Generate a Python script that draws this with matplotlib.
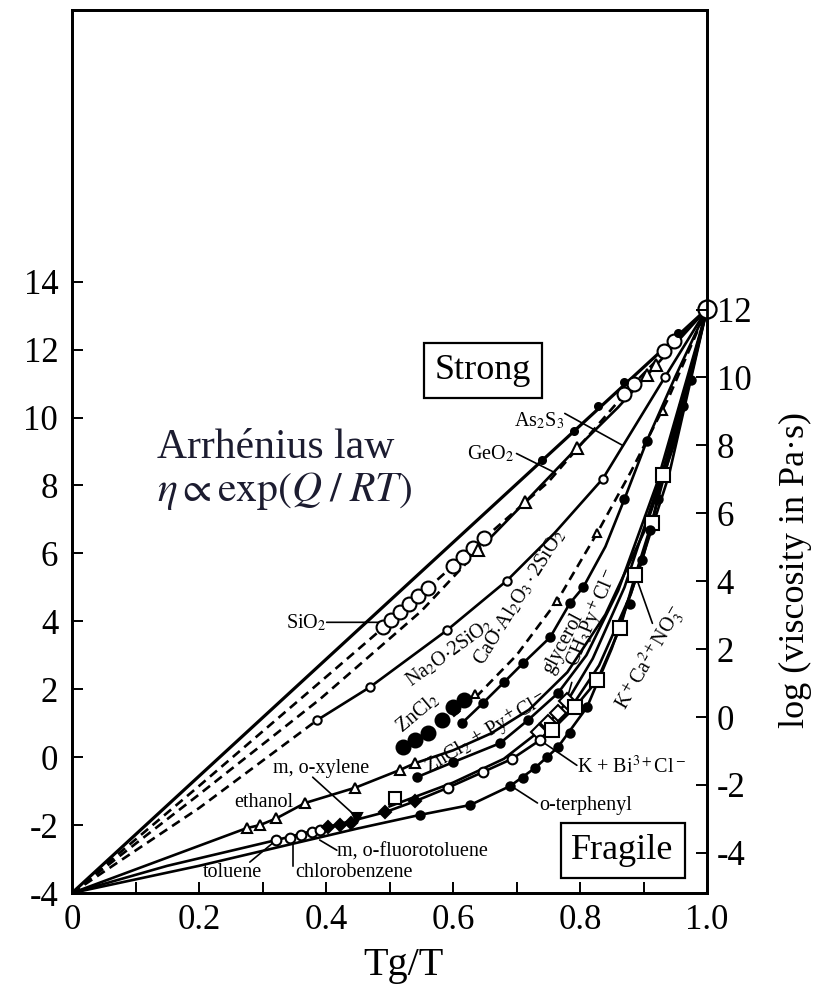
import numpy as np
import matplotlib.pyplot as plt

plt.rcParams['font.family'] = ['Liberation Serif', 'DejaVu Serif']
plt.rcParams['mathtext.fontset'] = 'stix'
plt.rcParams['axes.unicode_minus'] = False

# ---- data (Tg/T, log viscosity in poise-like left-axis units) ----
arr_t = [0.0, 1.0]
arr_v = [-4.0, 13.2]

sio2_line_t = [0.0, 0.2, 0.39, 0.5, 0.61, 0.75, 0.88, 0.94, 1.0]
sio2_line_v = [-4.0, -0.85, 2.2, 3.97, 5.8, 8.1, 10.9, 12.06, 13.2]
sio2_pts_t = [0.49, 0.503, 0.516, 0.53, 0.545, 0.56, 0.6, 0.615, 0.632, 0.648, 0.87, 0.885, 0.932, 0.948]
sio2_pts_v = [3.83, 4.05, 4.27, 4.5, 4.75, 4.98, 5.62, 5.88, 6.17, 6.45, 10.7, 11.0, 11.95, 12.25]

geo2_dash_t = [0.0, 0.2, 0.39, 0.55, 0.648]
geo2_dash_v = [-4.0, -1.1, 1.7, 4.3, 6.25]
geo2_line_t = [0.648, 0.713, 0.795, 0.86, 0.915, 1.0]
geo2_line_v = [6.25, 7.5, 9.1, 10.3, 11.44, 13.2]
geo2_pts_t = [0.64, 0.713, 0.795, 0.905, 0.92]
geo2_pts_v = [6.1, 7.5, 9.1, 11.25, 11.55]

as2s3_pts_t = [0.74, 0.79, 0.828, 0.87, 0.955]
as2s3_pts_v = [8.75, 9.6, 10.35, 11.05, 12.5]

na2o_dash_t = [0.0, 0.2, 0.386]
na2o_dash_v = [-4.0, -1.5, 1.09]
na2o_line_t = [0.386, 0.469, 0.59, 0.685, 0.76, 0.836, 0.868, 0.934, 1.0]
na2o_line_v = [1.09, 2.06, 3.73, 5.2, 6.6, 8.2, 9.18, 11.2, 13.2]
na2o_pts_t = [0.386, 0.469, 0.59, 0.685, 0.836, 0.934]
na2o_pts_v = [1.09, 2.06, 3.73, 5.2, 8.2, 11.2]

caoal_line_t = [0.6, 0.635, 0.7, 0.764, 0.827, 0.88, 0.94, 1.0]
caoal_line_v = [1.2, 1.75, 3.0, 4.6, 6.6, 8.4, 10.6, 13.2]
caoal_pts_t = [0.635, 0.764, 0.827, 0.93]
caoal_pts_v = [1.85, 4.6, 6.6, 10.2]

zncl2_pts_t = [0.521, 0.54, 0.56, 0.582, 0.6, 0.618]
zncl2_pts_v = [0.29, 0.5, 0.71, 1.09, 1.47, 1.68]

glyc_line_t = [0.614, 0.647, 0.68, 0.71, 0.753, 0.784, 0.805, 0.84, 0.87, 0.905, 0.95, 1.0]
glyc_line_v = [1.0, 1.59, 2.2, 2.76, 3.53, 4.53, 5.0, 6.2, 7.6, 9.3, 11.2, 13.2]
glyc_pts_t = [0.614, 0.647, 0.68, 0.71, 0.753, 0.784, 0.805, 0.87, 0.905]
glyc_pts_v = [1.0, 1.59, 2.2, 2.76, 3.53, 4.53, 5.0, 7.6, 9.3]

znpy_line_t = [0.543, 0.6, 0.674, 0.718, 0.765, 0.81, 0.86, 0.92, 1.0]
znpy_line_v = [-0.59, -0.15, 0.41, 1.09, 1.88, 3.0, 4.9, 8.0, 13.2]
znpy_pts_t = [0.543, 0.6, 0.674, 0.718, 0.765]
znpy_pts_v = [-0.59, -0.15, 0.41, 1.09, 1.88]

ch3py_line_t = [0.5, 0.6, 0.68, 0.735, 0.75, 0.765, 0.78, 0.82, 0.87, 0.93, 1.0]
ch3py_line_v = [-1.45, -0.75, -0.05, 0.75, 1.0, 1.3, 1.65, 2.9, 5.0, 8.4, 13.2]
ch3py_pts_t = [0.735, 0.75, 0.765, 0.78]
ch3py_pts_v = [0.75, 1.0, 1.3, 1.65]

kca_line_t = [0.74, 0.756, 0.792, 0.827, 0.863, 0.887, 0.913, 0.931, 0.96, 1.0]
kca_line_v = [0.55, 0.8, 1.47, 2.26, 3.8, 5.35, 6.9, 8.3, 10.3, 13.2]
kca_pts_t = [0.756, 0.792, 0.827, 0.863, 0.887, 0.913, 0.931]
kca_pts_v = [0.8, 1.47, 2.26, 3.8, 5.35, 6.9, 8.3]

oter_line_t = [0.0, 0.2, 0.359, 0.45, 0.548, 0.627, 0.69, 0.729, 0.765, 0.811, 0.85, 0.898, 0.923, 0.962, 1.0]
oter_line_v = [-4.0, -3.2, -2.5, -2.1, -1.7, -1.41, -0.85, -0.32, 0.29, 1.47, 3.2, 5.8, 7.6, 10.35, 13.2]
oter_pts_t = [0.548, 0.627, 0.69, 0.71, 0.729, 0.748, 0.765, 0.784, 0.811, 0.878, 0.898, 0.91, 0.923, 0.962, 0.975]
oter_pts_v = [-1.7, -1.41, -0.85, -0.6, -0.32, 0.0, 0.29, 0.7, 1.47, 4.5, 5.8, 6.68, 7.6, 10.35, 11.1]

fluo_line_t = [0.0, 0.15, 0.322, 0.403, 0.493, 0.54, 0.592, 0.647, 0.693, 0.737, 0.78, 0.83, 0.88, 0.94, 1.0]
fluo_line_v = [-4.0, -3.2, -2.44, -2.06, -1.62, -1.3, -0.9, -0.44, -0.05, 0.5, 1.3, 2.7, 4.8, 8.3, 13.2]
fluo_open_t = [0.322, 0.343, 0.36, 0.378, 0.39, 0.592, 0.647, 0.693, 0.737]
fluo_open_v = [-2.44, -2.38, -2.3, -2.2, -2.15, -0.9, -0.44, -0.05, 0.5]
fluo_dia_t = [0.403, 0.422, 0.44, 0.493, 0.54]
fluo_dia_v = [-2.06, -2.0, -1.93, -1.62, -1.3]

eth_line_t = [0.0, 0.275, 0.296, 0.322, 0.367, 0.446, 0.516, 0.54, 0.6, 0.66, 0.72, 0.78, 0.84, 0.9, 0.95, 1.0]
eth_line_v = [-4.0, -2.09, -2.0, -1.8, -1.35, -0.9, -0.38, -0.18, 0.2, 0.7, 1.4, 2.5, 4.2, 6.6, 9.3, 13.2]
eth_pts_t = [0.275, 0.296, 0.322, 0.367, 0.446, 0.516, 0.54]
eth_pts_v = [-2.09, -2.0, -1.8, -1.35, -0.9, -0.38, -0.18]

xyl_pts_t = [0.448]
xyl_pts_v = [-1.8]
misc_sq_t = [0.509]
misc_sq_v = [-1.2]

right_offset = 1.18  # right axis = left axis - offset

# ---- figure ----
fig = plt.figure(figsize=(8.25, 9.85), dpi=100)
ax = fig.add_axes([0.0873, 0.0934, 0.7697, 0.8965])

DASH = (0, (3.5, 2.2))


def curve(t, v, ls='-', lw=1.9):
    ax.plot(t, v, color='k', ls=ls, lw=lw, zorder=2)


def marks(t, v, m, ms, filled=False):
    ax.plot(t, v, ls='none', marker=m, ms=ms, mfc='k' if filled else 'white',
            mec='k', mew=1.5, zorder=4)


curve(arr_t, arr_v, lw=2.3)
curve(sio2_line_t, sio2_line_v, ls=DASH)
curve(geo2_dash_t, geo2_dash_v, ls=DASH)
curve(geo2_line_t, geo2_line_v)
curve(na2o_dash_t, na2o_dash_v, ls=DASH)
curve(na2o_line_t, na2o_line_v)
curve(caoal_line_t, caoal_line_v, ls=DASH)
curve(glyc_line_t, glyc_line_v)
curve(znpy_line_t, znpy_line_v)
curve(ch3py_line_t, ch3py_line_v)
curve(kca_line_t, kca_line_v)
curve(oter_line_t, oter_line_v)
curve(fluo_line_t, fluo_line_v)
curve(eth_line_t, eth_line_v)

marks(sio2_pts_t, sio2_pts_v, 'o', 10)
marks(geo2_pts_t, geo2_pts_v, '^', 9)
marks(as2s3_pts_t, as2s3_pts_v, 'o', 5, True)
marks(na2o_pts_t, na2o_pts_v, 'o', 6)
marks(caoal_pts_t, caoal_pts_v, '^', 6)
marks(zncl2_pts_t, zncl2_pts_v, 'o', 10, True)
marks(glyc_pts_t, glyc_pts_v, 'o', 6, True)
marks(znpy_pts_t, znpy_pts_v, 'o', 6, True)
marks(ch3py_pts_t, ch3py_pts_v, 'D', 8)
marks(kca_pts_t, kca_pts_v, 's', 10)
marks(oter_pts_t, oter_pts_v, 'o', 6, True)
marks(fluo_open_t, fluo_open_v, 'o', 7)
marks(fluo_dia_t, fluo_dia_v, 'D', 6, True)
marks(eth_pts_t, eth_pts_v, '^', 6.5)
marks(xyl_pts_t, xyl_pts_v, 'v', 7, True)
marks(misc_sq_t, misc_sq_v, 's', 9)
ax.plot([arr_t[-1]], [arr_v[-1]], ls='none', marker='o', ms=13, mfc='white',
        mec='k', mew=1.6, zorder=5, clip_on=False)

# ---- axes ----
ax.set_xlim(0, 1.0)
ax.set_ylim(-4, 22)
ax.set_xticks([0, 0.2, 0.4, 0.6, 0.8, 1.0])
ax.set_xticklabels(['0', '0.2', '0.4', '0.6', '0.8', '1.0'])
ax.set_xticks([0.1, 0.3, 0.5, 0.7, 0.9], minor=True)
ax.set_yticks(range(-4, 15, 2))
ax.tick_params(which='both', direction='in', length=8, width=1.4, labelsize=25)
ax.tick_params(axis='y', pad=10)
ax.tick_params(axis='x', pad=8)
for s in ax.spines.values():
    s.set_linewidth(2.0)

ax2 = ax.twinx()
ax2.set_ylim(-4 - right_offset, 22 - right_offset)
ax2.set_yticks(range(-4, 13, 2))
ax2.tick_params(direction='in', length=8, width=1.4, labelsize=25, pad=7)
for s in ax2.spines.values():
    s.set_linewidth(2.0)

fig.text(403 / 825, 1 - 966 / 985, 'Tg/T', ha='center', va='center', fontsize=29)
fig.text(795 / 825, 1 - 570 / 985, 'log (viscosity in Pa·s)', rotation=90,
         ha='center', va='center', fontsize=26)

# ---- annotations ----
box = dict(boxstyle='square,pad=0.3', fc='white', ec='k', lw=1.6)
ax.text(0.647, 11.38, 'Strong', fontsize=26, ha='center', va='center', bbox=box, zorder=6)
ax.text(0.867, -2.74, 'Fragile', fontsize=26, ha='center', va='center', bbox=box, zorder=6)

ax.text(0.134, 9.12, 'Arrhénius law', fontsize=30, color='#1c1c30', ha='left', va='center')
ax.text(0.134, 7.85, r'$\eta \propto \mathrm{exp}(Q\;/\;RT)$', fontsize=30, color='#1c1c30',
        ha='left', va='center')

fs = 14.5
labels = [
    (0.368, 3.94, r'SiO$_2$', 0, 'center'),
    (0.659, 8.94, r'GeO$_2$', 0, 'center'),
    (0.736, 9.91, r'As$_2$S$_3$', 0, 'center'),
    (0.595, 3.06, r'Na$_2$O$\cdot$2SiO$_2$', 36, 'center'),
    (0.705, 4.7, r'CaO$\cdot$Al$_2$O$_3\cdot$2SiO$_2$', 58, 'center'),
    (0.544, 1.29, r'ZnCl$_2$', 40, 'center'),
    (0.773, 3.35, 'glycerol', 62, 'center'),
    (0.82, 4.09, r'CH$_3$Py$^+$Cl$^-$', 67, 'center'),
    (0.653, 0.68, r'ZnCl$_2$ + Py$^+$Cl$^-$', 31, 'center'),
    (0.911, 2.91, r'K$^+$Ca$^{2+}$NO$_3^-$', 60, 'center'),
    (0.795, -0.29, r'K + Bi$^{3+}$Cl$^-$', 0, 'left'),
    (0.736, -1.41, 'o-terphenyl', 0, 'left'),
    (0.392, -0.32, 'm, o-xylene', 0, 'center'),
    (0.302, -1.35, 'ethanol', 0, 'center'),
    (0.417, -2.79, 'm, o-fluorotoluene', 0, 'left'),
    (0.351, -3.41, 'chlorobenzene', 0, 'left'),
    (0.206, -3.41, 'toluene', 0, 'left'),
]
for x, y, s, rot, ha in labels:
    ax.text(x, y, s, fontsize=fs, rotation=rot, ha=ha, va='center',
            rotation_mode='anchor', zorder=6)

leaders = [
    ((0.401, 3.97), (0.489, 3.97)),
    ((0.700, 8.94), (0.760, 8.38)),
    ((0.776, 10.12), (0.867, 9.18)),
    ((0.914, 3.94), (0.889, 5.26)),
    ((0.795, -0.24), (0.744, 0.41)),
    ((0.733, -1.35), (0.694, -0.88)),
    ((0.379, -0.59), (0.448, -1.76)),
    ((0.417, -2.74), (0.390, -2.44)),
    ((0.348, -3.21), (0.348, -2.44)),
    ((0.28, -3.09), (0.316, -2.53)),
    ((0.787, 2.2), (0.779, 1.68)),
]
for a, b in leaders:
    ax.annotate('', xy=b, xytext=a, arrowprops=dict(arrowstyle='-', lw=1.2, color='k',
                                                    shrinkA=0, shrinkB=0))

fig.savefig('out.png', dpi=100)
